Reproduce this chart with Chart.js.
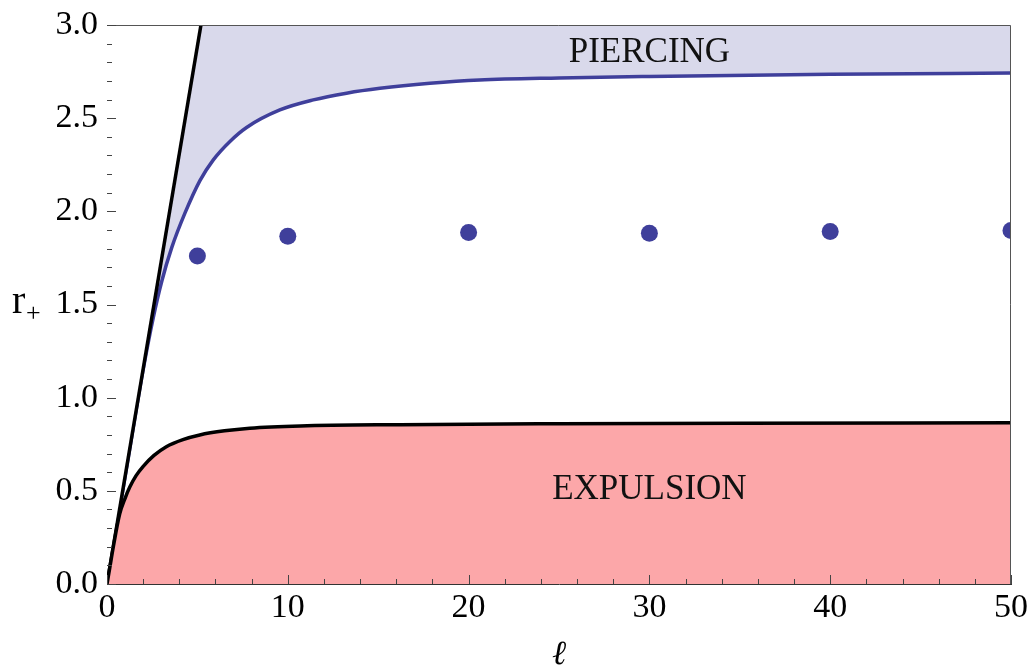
<!DOCTYPE html>
<html>
<head>
<meta charset="utf-8">
<script src="https://cdn.jsdelivr.net/npm/chart.js@4"></script>
<style>
  html, body { margin: 0; padding: 0; background: #ffffff; }
  #wrap { width: 1033px; height: 666px; position: relative; }
</style>
</head>
<body>
<div id="wrap"><canvas id="c" width="1033" height="666"></canvas></div>
<script>
// ---- data ----
const boundaryL = [0, 5.196];            // straight black boundary r = l/sqrt(3)
const boundaryR = [0, 3.0];

const piercingL = [0, 1, 2.0, 2.56, 3.03, 3.58, 4.31, 5.14, 5.87, 6.8, 7.72, 9.56, 11.41, 13.25, 15.1, 17.86, 20.6, 25, 30, 40, 50];
const piercingR = [0, 0.575, 1.15, 1.43, 1.625, 1.805, 1.99, 2.165, 2.275, 2.375, 2.45, 2.544, 2.598, 2.634, 2.66, 2.687, 2.705, 2.716, 2.724, 2.736, 2.742];

const expulsionL = [0, 0.15, 0.35, 0.7, 1.0, 1.26, 1.6, 1.99, 2.6, 3.28, 4.2, 5.13, 6.5, 7.9, 10.7, 16.2, 25, 35, 50];
const expulsionR = [0, 0.085, 0.2, 0.375, 0.46, 0.52, 0.58, 0.63, 0.69, 0.737, 0.775, 0.80, 0.822, 0.836, 0.848, 0.855, 0.860, 0.863, 0.865];

const pointsL = [5, 10, 20, 30, 40, 50];
const pointsR = [1.76, 1.866, 1.887, 1.882, 1.892, 1.897];

const xTicks = [0, 10, 20, 30, 40, 50];
const yTicks = [0, 0.5, 1.0, 1.5, 2.0, 2.5, 3.0];
const regionLabels = ['PIERCING', 'EXPULSION'];
const xTitle = 'ℓ';
const yTitleMain = 'r';
const yTitleSub = '+';

const zip = (a, b) => a.map((v, i) => ({ x: v, y: b[i] }));

const SERIF = "'Liberation Serif', 'Times New Roman', serif";
const BLUE = '#3f3f9b';

const decorPlugin = {
  id: 'decor',
  afterDatasetsDraw(chart) {
    const { ctx, chartArea: a, scales: { x, y } } = chart;
    ctx.save();
    ctx.strokeStyle = '#555';
    ctx.lineWidth = 1;
    ctx.beginPath();
    ctx.moveTo(a.left, a.top + 0.5);
    ctx.lineTo(a.right - 0.5, a.top + 0.5);
    ctx.lineTo(a.right - 0.5, a.bottom);
    ctx.stroke();
    ctx.strokeStyle = '#444';
    ctx.beginPath();
    for (let i = 0; i <= 25; i++) {
      const v = i * 2;
      const px = Math.round(x.getPixelForValue(v)) + 0.5;
      const len = (v % 10 === 0) ? 9 : 5;
      ctx.moveTo(px, a.bottom);
      ctx.lineTo(px, a.bottom - len);
    }
    for (let i = 0; i <= 30; i++) {
      const v = i / 10;
      const py = Math.round(y.getPixelForValue(v)) + 0.5;
      const len = (i % 5 === 0) ? 9 : 5;
      ctx.moveTo(a.left, py);
      ctx.lineTo(a.left + len, py);
    }
    ctx.stroke();
    ctx.restore();
  },
  afterDraw(chart) {
    const { ctx, chartArea: a, scales: { x, y } } = chart;
    ctx.save();
    ctx.fillStyle = '#111';
    ctx.textAlign = 'center';
    ctx.textBaseline = 'alphabetic';
    ctx.font = '35px ' + SERIF;
    ctx.fillText(regionLabels[0], x.getPixelForValue(30), y.getPixelForValue(2.803));
    ctx.fillText(regionLabels[1], x.getPixelForValue(30), y.getPixelForValue(0.4545));
    ctx.fillStyle = '#000';
    ctx.font = 'italic 34px ' + SERIF;
    ctx.fillText(xTitle, (a.left + a.right) / 2, 664);
    ctx.textAlign = 'left';
    ctx.font = '40px ' + SERIF;
    ctx.fillText(yTitleMain, 12, 313);
    ctx.font = '26px ' + SERIF;
    ctx.fillText(yTitleSub, 26, 321);
    ctx.restore();
  }
};

new Chart(document.getElementById('c'), {
  type: 'line',
  data: {
    datasets: [
      {
        label: 'piercing',
        data: zip(piercingL, piercingR),
        borderColor: BLUE,
        borderWidth: 3.5,
        backgroundColor: '#d9d9eb',
        fill: 'end',
        pointRadius: 0,
        cubicInterpolationMode: 'monotone',
        order: 5
      },
      {
        label: 'boundary',
        data: zip(boundaryL, boundaryR),
        borderColor: '#000',
        borderWidth: 3.5,
        backgroundColor: '#ffffff',
        fill: 'end',
        pointRadius: 0,
        order: 4
      },
      {
        label: 'expulsion',
        data: zip(expulsionL, expulsionR),
        borderColor: '#000',
        borderWidth: 3.5,
        backgroundColor: '#fca7a9',
        fill: 'origin',
        pointRadius: 0,
        cubicInterpolationMode: 'monotone',
        order: 3
      },
      {
        label: 'points',
        data: zip(pointsL, pointsR),
        showLine: false,
        pointRadius: 8.5,
        pointBackgroundColor: BLUE,
        pointBorderWidth: 0,
        borderColor: BLUE,
        fill: false,
        clip: 0,
        order: 1
      }
    ]
  },
  options: {
    responsive: false,
    animation: false,
    devicePixelRatio: 1,
    layout: { padding: { top: 25, right: 22, left: 0, bottom: 0 } },
    plugins: { legend: { display: false }, tooltip: { enabled: false } },
    scales: {
      x: {
        type: 'linear',
        min: 0, max: 50,
        afterBuildTicks: (s) => { s.ticks = xTicks.map(v => ({ value: v })); },
        afterFit: (s) => { s.height = 82; s.paddingLeft = 0; s.paddingRight = 0; },
        grid: { display: false, drawTicks: false },
        border: { display: true, color: '#333', width: 1 },
        ticks: { color: '#000', font: { family: SERIF, size: 34 }, padding: 4, maxRotation: 0, autoSkip: false }
      },
      y: {
        type: 'linear',
        min: 0, max: 3,
        afterBuildTicks: (s) => { s.ticks = yTicks.map(v => ({ value: v })); },
        afterFit: (s) => { s.width = 107; s.paddingTop = 0; s.paddingBottom = 0; },
        grid: { display: false, drawTicks: false },
        border: { display: true, color: '#555', width: 1 },
        ticks: { color: '#000', font: { family: SERIF, size: 34 }, padding: 9, autoSkip: false, callback: (v) => Number(v).toFixed(1) }
      }
    }
  },
  plugins: [decorPlugin]
});
</script>
</body>
</html>
